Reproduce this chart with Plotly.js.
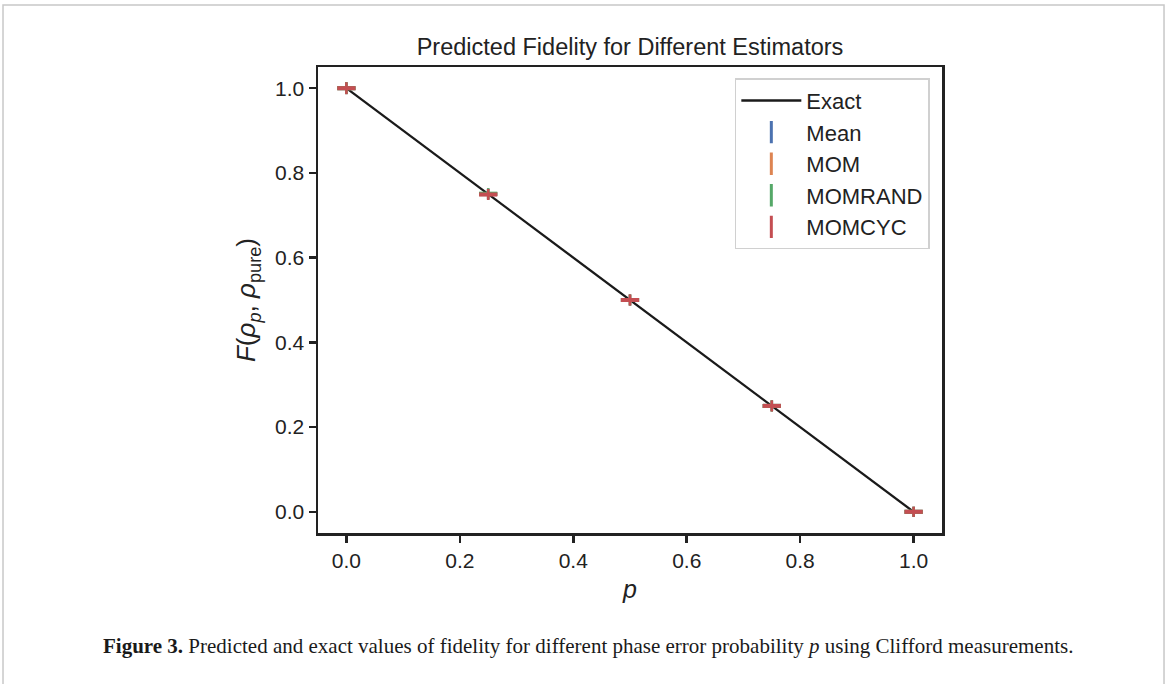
<!DOCTYPE html>
<html>
<head>
<meta charset="utf-8">
<script src="https://cdn.plot.ly/plotly-3.0.1.min.js"></script>
<style>html,body{margin:0;padding:0;background:#fff;}#chart{width:1168px;height:684px;}</style>
</head>
<body>
<div id="chart"></div>
<script>
const pValues = [0.0, 0.25, 0.5, 0.75, 1.0];
const exactFidelity = [1.0, 0.75, 0.5, 0.25, 0.0];
const estimatorNames = ["Mean", "MOM", "MOMRAND", "MOMCYC"];
const estimatorColors = ["#4c72b0", "#dd8452", "#55a868", "#c44e52"];
const meanValues = [1.0, 0.75, 0.5, 0.25, 0.0];
const momValues = [1.0, 0.75, 0.5, 0.25, 0.0];
const momrandValues = [1.0, 0.751, 0.5, 0.25, 0.0];
const momcycValues = [1.0, 0.749, 0.5, 0.25, 0.0];
const estimatorErrors = [0.014, 0.013, 0.013, 0.013, 0.012];
const estimatorValues = [meanValues, momValues, momrandValues, momcycValues];

const font = "Liberation Sans, Arial, Helvetica, sans-serif";
const traces = [];
traces.push({
  x: pValues, y: exactFidelity, type: "scatter", mode: "lines",
  name: "Exact", legendgroup: "exact",
  line: {color: "#1a1a1a", width: 2.3}
});
estimatorNames.forEach((nm, i) => {
  traces.push({
    x: pValues, y: estimatorValues[i], type: "scatter", mode: "markers",
    name: nm, legendgroup: nm, showlegend: false,
    marker: {symbol: "line-ew-open", size: 13, color: estimatorColors[i], line: {color: estimatorColors[i], width: 4}},
    error_y: {type: "data", array: estimatorErrors, visible: true, color: estimatorColors[i], thickness: 2.5, width: 0}
  });
});
estimatorNames.forEach((nm, i) => {
  traces.push({
    x: [null], y: [null], type: "scatter", mode: "markers",
    name: nm, legendgroup: nm, showlegend: true,
    marker: {symbol: "line-ns-open", size: 16, color: estimatorColors[i], line: {color: estimatorColors[i], width: 3}}
  });
});

const axisCommon = {
  showgrid: false, zeroline: false, showline: true, mirror: true,
  linecolor: "#222", linewidth: 2.5,
  ticks: "outside", ticklen: 7, tickwidth: 2.5, tickcolor: "#222",
  tickfont: {family: font, size: 21, color: "#222"},
  tickformat: ".1f", dtick: 0.2, tick0: 0
};

const layout = {
  width: 1168, height: 684,
  paper_bgcolor: "#fff", plot_bgcolor: "#fff",
  margin: {l: 318, r: 226, t: 67, b: 151},
  title: {text: "Predicted Fidelity for Different Estimators", font: {family: font, size: 23.5, color: "#222"},
          x: 0.5394, xanchor: "center", y: 0.931, yanchor: "middle"},
  xaxis: Object.assign({}, axisCommon, {range: [-0.05, 1.05],
    title: {text: "<i>p</i>", font: {family: font, size: 25, color: "#222"}, standoff: 10}}),
  yaxis: Object.assign({}, axisCommon, {range: [-0.05, 1.05],
    title: {text: "<i>F</i>(<i>ρ</i><sub><i>p</i></sub>, <i>ρ</i><sub>pure</sub>)", font: {family: font, size: 26, color: "#222"}, standoff: 12}}),
  showlegend: true,
  legend: {x: 0.668, y: 0.976, xanchor: "left", yanchor: "top",
    bgcolor: "#fff", bordercolor: "#d0d0d0", borderwidth: 1.5,
    font: {family: font, size: 22, color: "#222"},
    traceorder: "grouped", tracegroupgap: 0, itemwidth: 60},
  shapes: [{type: "rect", xref: "paper", yref: "paper",
    x0: -0.5048, x1: 1.3558, y0: -0.40, y1: 1.133,
    line: {color: "#c8c8c8", width: 1.5}, fillcolor: "rgba(0,0,0,0)", layer: "below"}],
  annotations: [{xref: "paper", yref: "paper", x: (101 - 318) / 624, y: (533 - 646) / 466,
    xanchor: "left", yanchor: "middle", showarrow: false,
    text: "<b>Figure 3.</b> Predicted and exact values of fidelity for different phase error probability <i>p</i> using Clifford measurements.",
    font: {family: "Liberation Serif, Times New Roman, serif", size: 21, color: "#1a1a1a"}}]
};

Plotly.newPlot("chart", traces, layout, {displayModeBar: false, staticPlot: true});
</script>
</body>
</html>
